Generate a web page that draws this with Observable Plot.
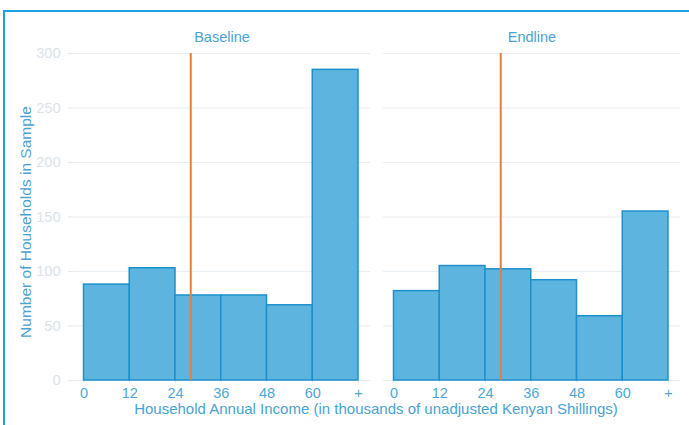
<!DOCTYPE html>
<html><head><meta charset="utf-8">
<script src="https://cdn.jsdelivr.net/npm/d3@7"></script>
<script src="https://cdn.jsdelivr.net/npm/@observablehq/plot@0.6"></script>
<style>
body{margin:0;background:#fff;font-family:"Liberation Sans",Arial,sans-serif;}
#wrap{position:relative;width:689px;height:425px;overflow:hidden;}
#frame{position:absolute;left:3px;top:10px;width:720px;height:500px;border:2px solid #1ba1e2;pointer-events:none;}
#wrap svg{position:absolute;left:0;top:0;}
</style></head><body><div id="wrap"><div id="frame"></div></div>
<script>
const waves = ["Baseline", "Endline"];
const binEdges = [0, 12, 24, 36, 48, 60, 72];
const baselineCounts = [88, 103, 78, 78, 69, 285];
const endlineCounts = [82, 105, 102, 92, 59, 155];
const medians = [28, 28];
const xTicks = [0, 12, 24, 36, 48, 60, 72];
const xTickLabels = ["0", "12", "24", "36", "48", "60", "+"];
const yTicks = [0, 50, 100, 150, 200, 250, 300];
const xTitle = "Household Annual Income (in thousands of unadjusted Kenyan Shillings)";
const yTitle = "Number of Households in Sample";

const bars = [];
waves.forEach((w, i) => {
  const counts = i ? endlineCounts : baselineCounts;
  counts.forEach((v, j) => bars.push({wave: w, x1: binEdges[j], x2: binEdges[j + 1], count: v}));
});
const med = waves.map((w, i) => ({wave: w, m: medians[i]}));

const chart = Plot.plot({
  width: 689, height: 425,
  marginLeft: 72, marginRight: 9, marginTop: 53, marginBottom: 45,
  style: {fontFamily: "'Liberation Sans', Arial, sans-serif", fontSize: "14px", background: "transparent"},
  fx: {domain: waves, paddingInner: 0.042, paddingOuter: 0, axis: null},
  x: {domain: [0, 72], insetLeft: 10.5, insetRight: 12},
  y: {domain: [0, 300]},
  marks: [
    Plot.gridY(yTicks, {stroke: "#e8edf1", strokeOpacity: 1, strokeWidth: 1}),
    Plot.axisY(yTicks, {tickSize: 5, tickPadding: 8, stroke: "#e3e9ee", fill: "#d8e3ec", label: null, fontSize: 14.5}),
    Plot.axisX(xTicks, {tickFormat: d => xTickLabels[xTicks.indexOf(d)], tickSize: 3, tickPadding: 4,
      stroke: "#e3e9ee", fill: "#4ea7d7", label: null, fontSize: 14.5}),
    Plot.rectY(bars, {fx: "wave", x1: "x1", x2: "x2", y1: 0, y2: "count", fill: "#5db5df", stroke: "#1c90cc", strokeWidth: 1.5}),
    Plot.ruleX(med, {fx: "wave", x: "m", y1: 0, y2: 300, stroke: "#e67e3c", strokeWidth: 2}),
    Plot.text(waves, {fx: d => d, text: d => d, frameAnchor: "top", dy: -16, lineAnchor: "middle", fill: "#4aa3d3", fontSize: 14.5})
  ]
});

const svg = d3.select(chart);
svg.append("text")
  .attr("transform", "translate(27,222) rotate(-90)")
  .attr("text-anchor", "middle").attr("dominant-baseline", "middle")
  .attr("fill", "#4aa3d3").attr("font-size", 15.5).text(yTitle);
svg.append("text")
  .attr("x", 376).attr("y", 410)
  .attr("text-anchor", "middle").attr("dominant-baseline", "middle")
  .attr("fill", "#4aa3d3").attr("font-size", 15).text(xTitle);

document.getElementById("wrap").prepend(chart);
</script>
</body></html>
